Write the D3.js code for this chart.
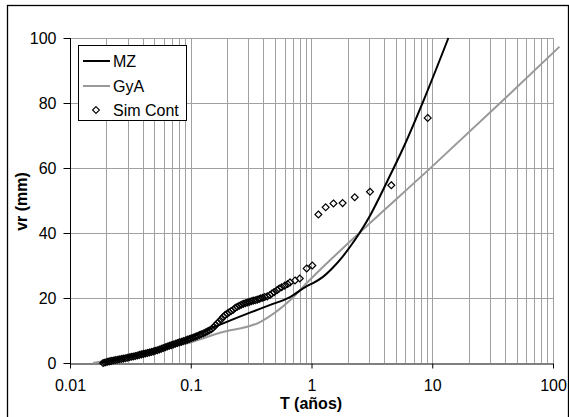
<!DOCTYPE html>
<html>
<head>
<meta charset="utf-8">
<script src="https://cdn.jsdelivr.net/npm/d3@7/dist/d3.min.js"></script>
<style>
  html, body { margin: 0; padding: 0; background: #fff; }
  svg { display: block; }
  text { font-family: "Liberation Sans", Arial, sans-serif; }
</style>
</head>
<body>
<svg id="chart" width="569" height="417"></svg>
<script>
// ---------- data ----------
const xTicks = [0.01, 0.1, 1, 10, 100];
const xTickLabels = ["0.01", "0.1", "1", "10", "100"];
const yTicks = [0, 20, 40, 60, 80, 100];
const yTickLabels = ["0", "20", "40", "60", "80", "100"];
const seriesNames = ["MZ", "GyA", "Sim Cont"];

// MZ curve
const mzT = [0.0177, 0.0259, 0.038, 0.0556, 0.0671, 0.104, 0.175, 0.309, 0.45, 0.664, 0.93, 1.03, 1.245, 1.5, 1.79, 2.08, 2.5, 3.05, 3.69, 4.46, 5.61, 8.5, 13.6];
const mzV = [0.0, 1.2, 2.6, 4.2, 5.3, 8.2, 11.8, 15.5, 17.8, 20.3, 23.8, 24.6, 26.5, 29.3, 32.5, 35.7, 40.0, 45.3, 51.3, 57.6, 65.3, 80.9, 100];

// GyA curve
const gyaT = [0.0155, 0.02, 0.03, 0.05, 0.0925, 0.175, 0.375, 0.664, 0.935, 1.25, 2.5, 10, 40, 113];
const gyaV = [0.0, 0.8, 2.2, 4.3, 6.0, 9.3, 12.6, 19.3, 25.0, 29.6, 40.1, 60.5, 81.4, 97.3];

// Sim Cont points
const simT = [0.0188, 0.0195, 0.0203, 0.0211, 0.0219, 0.0228, 0.0237, 0.0246, 0.0256, 0.0266,
  0.0276, 0.0287, 0.0298, 0.0310, 0.0322, 0.0334, 0.0347, 0.0361, 0.0375, 0.0390,
  0.0405, 0.0421, 0.0437, 0.0454, 0.0472, 0.0490, 0.0509, 0.0529, 0.0550, 0.0571,
  0.0593, 0.0616, 0.0640, 0.0665, 0.0691, 0.0718, 0.0746, 0.0775, 0.0805, 0.0836,
  0.0869, 0.0903, 0.0938, 0.0974, 0.101, 0.105, 0.109, 0.113, 0.118, 0.122,
  0.127, 0.132, 0.137, 0.142, 0.148, 0.154, 0.160, 0.166, 0.172, 0.179,
  0.186, 0.193, 0.201, 0.208, 0.216, 0.225, 0.234, 0.243, 0.252, 0.262,
  0.272, 0.283, 0.294, 0.305, 0.317, 0.329, 0.342, 0.355, 0.369, 0.38,
  0.395, 0.41, 0.43, 0.453, 0.47, 0.49, 0.518, 0.54, 0.566, 0.60,
  0.635, 0.664, 0.73, 0.80, 0.912, 1.016, 1.14, 1.31, 1.52, 1.81,
  2.28, 3.05, 4.58, 9.17];
const simV = [0.0, 0.15, 0.35, 0.5, 0.65, 0.75, 0.9, 1.0, 1.15, 1.25,
  1.35, 1.45, 1.6, 1.75, 1.9, 2.0, 2.15, 2.3, 2.5, 2.65,
  2.8, 2.95, 3.1, 3.25, 3.4, 3.55, 3.75, 3.9, 4.15, 4.4,
  4.6, 4.85, 5.05, 5.3, 5.5, 5.7, 5.95, 6.15, 6.35, 6.55,
  6.75, 6.95, 7.2, 7.4, 7.6, 7.85, 8.1, 8.3, 8.6, 8.85,
  9.1, 9.4, 9.7, 10.0, 10.4, 10.9, 11.6, 12.2, 12.8, 13.5,
  14.2, 14.8, 15.2, 15.6, 16.0, 16.4, 17.0, 17.3, 17.6, 17.9,
  18.2, 18.4, 18.6, 18.8, 19.0, 19.2, 19.3, 19.5, 19.7, 19.9,
  20.1, 20.3, 20.5, 20.9, 21.4, 21.8, 22.4, 22.9, 23.3, 23.8,
  24.3, 24.8, 25.4, 26.0, 29.1, 30.0, 45.7, 47.9, 49.1, 49.2,
  51.0, 52.7, 54.7, 75.4];

// ---------- layout ----------
const svg = d3.select("#chart");
const pLeft = 70, pRight = 553, pTop = 38, pBottom = 363;
const x = d3.scaleLog().domain([0.01, 100]).range([pLeft, pRight]);
const y = d3.scaleLinear().domain([0, 100]).range([pBottom, pTop]);
const fontSize = 16;

// outer frame
svg.append("rect")
  .attr("x", 7.5).attr("y", 5.5).attr("width", 561).attr("height", 420)
  .attr("fill", "#fff").attr("stroke", "#000").attr("stroke-width", 1.3);

// gridlines
const gridColor = "#a0a0a0";
const vgrid = [];
for (let e = -2; e <= 1; e++) {
  for (let k = 1; k <= 9; k++) {
    const v = k * Math.pow(10, e);
    if (v > 0.0100001) vgrid.push(+v.toPrecision(3));
  }
}
vgrid.push(100);
svg.append("g").selectAll("line").data(vgrid).join("line")
  .attr("x1", d => Math.round(x(d)) + 0.5).attr("x2", d => Math.round(x(d)) + 0.5)
  .attr("y1", pTop).attr("y2", pBottom)
  .attr("stroke", gridColor).attr("stroke-width", 1);
svg.append("g").selectAll("line").data(yTicks.filter(d => d > 0)).join("line")
  .attr("x1", pLeft).attr("x2", pRight)
  .attr("y1", d => Math.round(y(d)) + 0.5).attr("y2", d => Math.round(y(d)) + 0.5)
  .attr("stroke", gridColor).attr("stroke-width", 1);

// axes
const xAxis = d3.axisBottom(x).tickValues(xTicks)
  .tickFormat((d, i) => xTickLabels[i]).tickSize(5).tickPadding(11).tickSizeOuter(0);
const gx = svg.append("g").attr("transform", `translate(0,${pBottom + 0.5})`).call(xAxis);
gx.select(".domain").attr("stroke", "#000");
gx.selectAll(".tick line").attr("stroke", "#000");
gx.selectAll("text").attr("font-size", fontSize).attr("fill", "#000")
  .attr("font-family", "Liberation Sans, Arial, sans-serif");

const yAxis = d3.axisLeft(y).tickValues(yTicks)
  .tickFormat((d, i) => yTickLabels[i]).tickSize(7).tickPadding(7).tickSizeOuter(0);
const gy = svg.append("g").attr("transform", `translate(${pLeft + 0.5},0)`).call(yAxis);
gy.select(".domain").attr("stroke", "#000").attr("d", `M0,${pTop}V${pBottom + 5}`);
gy.selectAll(".tick line").attr("stroke", "#000");
gy.selectAll("text").attr("font-size", fontSize).attr("fill", "#000")
  .attr("font-family", "Liberation Sans, Arial, sans-serif");

// axis titles
svg.append("text").attr("x", 311).attr("y", 409)
  .attr("text-anchor", "middle").attr("font-size", fontSize).attr("font-weight", "bold")
  .text("T (años)");
svg.append("text").attr("transform", `translate(27,${(pTop + pBottom) / 2 + 1}) rotate(-90)`)
  .attr("text-anchor", "middle").attr("font-size", fontSize).attr("font-weight", "bold")
  .text("vr (mm)");

// lines
const line = d3.line().x(d => x(d[0])).y(d => y(d[1])).curve(d3.curveMonotoneX);
svg.append("path").datum(gyaT.map((t, i) => [t, gyaV[i]]))
  .attr("d", line).attr("fill", "none").attr("stroke", "#999").attr("stroke-width", 2);
svg.append("path").datum(mzT.map((t, i) => [t, mzV[i]]))
  .attr("d", line).attr("fill", "none").attr("stroke", "#000").attr("stroke-width", 2);

// points
const diamond = d3.symbol().type(d3.symbolDiamond2).size(30);
svg.append("g").selectAll("path").data(simT.map((t, i) => [t, simV[i]])).join("path")
  .attr("transform", d => `translate(${x(d[0])},${y(d[1])})`)
  .attr("d", diamond).attr("fill", "none").attr("stroke", "#000").attr("stroke-width", 1.2);

// legend
const lg = svg.append("g");
lg.append("rect").attr("x", 78.5).attr("y", 45.5).attr("width", 108).attr("height", 75)
  .attr("fill", "#fff").attr("stroke", "#000").attr("stroke-width", 1);
const items = [
  { name: seriesNames[0], type: "line", color: "#000", yy: 61 },
  { name: seriesNames[1], type: "line", color: "#999", yy: 86 },
  { name: seriesNames[2], type: "point", color: "#000", yy: 110 }
];
items.forEach(it => {
  if (it.type === "line") {
    lg.append("line").attr("x1", 83).attr("x2", 110).attr("y1", it.yy).attr("y2", it.yy)
      .attr("stroke", it.color).attr("stroke-width", 2);
  } else {
    lg.append("path").attr("transform", `translate(96,${it.yy})`).attr("d", diamond)
      .attr("fill", "#fff").attr("stroke", "#000").attr("stroke-width", 1.1);
  }
  lg.append("text").attr("x", 113).attr("y", it.yy).attr("dy", "0.36em")
    .attr("font-size", fontSize).attr("fill", "#000").text(it.name);
});
</script>
</body>
</html>
